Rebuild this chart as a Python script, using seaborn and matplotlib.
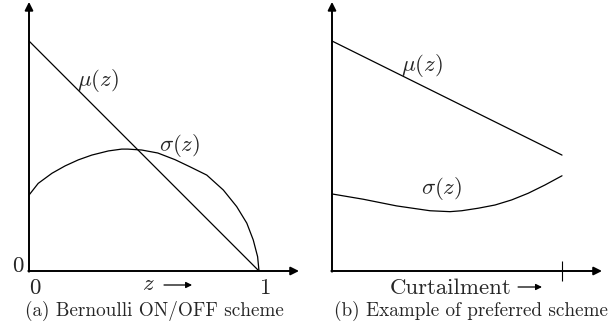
import matplotlib
matplotlib.use("Agg")
import matplotlib.pyplot as plt
import seaborn as sns

# panel (a): Bernoulli ON/OFF scheme
z_a = [0.0, 1.0]
mu_a = [1.0, 0.0]
z_sig_a = [0.0, 0.04, 0.1, 0.157, 0.214, 0.273, 0.345, 0.403, 0.43, 0.49,
           0.56, 0.635, 0.7, 0.773, 0.845, 0.903, 0.947, 0.975, 0.994, 1.0]
sig_a = [0.33, 0.381, 0.425, 0.457, 0.483, 0.504, 0.522, 0.53, 0.53, 0.526,
         0.513, 0.484, 0.453, 0.417, 0.352, 0.28, 0.208, 0.135, 0.062, 0.0]

# panel (b): example of preferred scheme
x_b = [0.0, 1.0]
mu_b = [1.0, 0.504]
x_sig_b = [0.0, 0.136, 0.281, 0.426, 0.513, 0.564, 0.636, 0.709, 0.781,
           0.853, 0.926, 1.0]
sig_b = [0.335, 0.312, 0.283, 0.262, 0.258, 0.262, 0.273, 0.287, 0.309,
         0.338, 0.374, 0.414]

captions = ["(a) Bernoulli ON/OFF scheme", "(b) Example of preferred scheme"]

sns.set_theme(style="white")
plt.rcParams["font.family"] = ["cmr10", "DejaVu Serif"]
plt.rcParams["mathtext.fontset"] = "cm"
plt.rcParams["axes.formatter.use_mathtext"] = True

W, H = 611, 331
UNIT = 230.0  # pixels per data unit
fig = plt.figure(figsize=(W / 100, H / 100), dpi=100)


def make_axes(x0, y0, x1):
    # x0, y0: pixel position of origin; x1: right edge in pixels
    ax = fig.add_axes([x0 / W, (H - y0) / H, (x1 - x0) / W, y0 / H])
    ax.set_xlim(0, (x1 - x0) / UNIT)
    ax.set_ylim(0, y0 / UNIT)
    for s in ax.spines.values():
        s.set_visible(False)
    ax.set_facecolor("none")
    return ax


def axis_arrows(ax, xtip, ytip):
    kw = dict(arrowstyle="-|>", color="black", lw=1.4, mutation_scale=12,
              shrinkA=0, shrinkB=0)
    ax.annotate("", xy=(xtip, 0), xytext=(-0.003, 0), arrowprops=kw,
                annotation_clip=False)
    ax.annotate("", xy=(0, ytip), xytext=(0, -0.003), arrowprops=kw,
                annotation_clip=False)


def small_arrow(ax, xa, xb, y):
    ax.annotate("", xy=(xb, y), xytext=(xa, y),
                arrowprops=dict(arrowstyle="-|>", color="black", lw=0.9,
                                mutation_scale=9, shrinkA=0, shrinkB=0),
                annotation_clip=False)


def base(y_px, y0=271):
    # baseline pixel row -> data y
    return (y0 - y_px) / UNIT


line_kw = dict(color="black", linewidth=0.9)
lab = 16.5
tkw = dict(fontsize=lab, ha="center", va="baseline")

# ---- panel (a)
ax1 = make_axes(29, 271, 301)
sns.lineplot(x=z_a, y=mu_a, ax=ax1, **line_kw)
sns.lineplot(x=z_sig_a, y=sig_a, ax=ax1, sort=False, **line_kw)
ax1.set_xticks([])
ax1.set_yticks([])
axis_arrows(ax1, 1.174, 1.17)
ax1.text(0.30, base(86), r"$\mu(z)$", **tkw)
ax1.text(0.657, base(151), r"$\sigma(z)$", **tkw)
ax1.text(-0.048, base(272.5), "0", **tkw)
ax1.text(0.026, base(294), "0", **tkw)
ax1.text(1.03, base(294), "1", **tkw)
ax1.text(0.52, base(290), r"$z$", **tkw)
small_arrow(ax1, 0.587, 0.709, base(285))

# ---- panel (b)
ax2 = make_axes(332, 271, 608)
sns.lineplot(x=x_b, y=mu_b, ax=ax2, **line_kw)
sns.lineplot(x=x_sig_b, y=sig_b, ax=ax2, **line_kw)
ax2.set_yticks([])
ax2.set_xticks([1.0])
ax2.set_xticklabels([""])
ax2.tick_params(axis="x", direction="inout", length=14.5, width=0.8,
                color="black", bottom=True)
axis_arrows(ax2, 1.174, 1.17)
ax2.text(0.39, base(71), r"$\mu(z)$", **tkw)
ax2.text(0.478, base(194), r"$\sigma(z)$", **tkw)
ax2.text(0.517, base(294.5), "Curtailment", **tkw)
small_arrow(ax2, 0.809, 0.913, base(287))

# captions
fig.text(154.2 / W, 1 - 316 / H, captions[0], fontsize=13.8,
         ha="center", va="baseline")
fig.text(471 / W, 1 - 316 / H, captions[1], fontsize=13.8,
         ha="center", va="baseline")

fig.savefig("out.png", dpi=100)
